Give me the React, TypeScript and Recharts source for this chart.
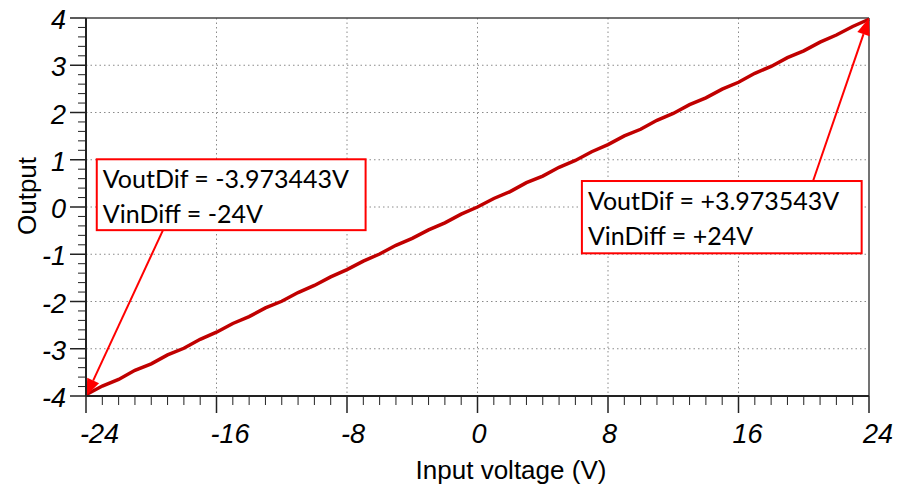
import React from 'react'
import { LineChart, Line, XAxis, YAxis, CartesianGrid, ReferenceLine, ReferenceArea, Label } from 'recharts'

// sweep of the differential input (V) and the measured output
const inputVoltage = [
    -24, -23, -22, -21, -20, -19, -18, -17, -16, -15, -14, -13, -12, -11, -10, -9, -8, -7, -6, -5, -4, -3, -2, -1,
    0, 1, 2, 3, 4, 5, 6, 7, 8, 9, 10, 11, 12, 13, 14, 15, 16, 17, 18, 19, 20, 21, 22, 23, 24,
]
const outputVoltage = [
    -3.973, -3.79, -3.65, -3.455, -3.32, -3.13, -2.99, -2.8, -2.65, -2.465, -2.32, -2.135, -1.995, -1.81, -1.66,
    -1.48, -1.325, -1.145, -0.995, -0.81, -0.665, -0.485, -0.335, -0.15, 0, 0.18, 0.325, 0.515, 0.655, 0.84, 0.985,
    1.17, 1.32, 1.505, 1.645, 1.835, 1.98, 2.165, 2.31, 2.495, 2.64, 2.83, 2.975, 3.16, 3.305, 3.49, 3.64, 3.82, 3.974,
]

const xMajorTicks = [-24, -16, -8, 0, 8, 16, 24]
const yMajorTicks = [-4, -3, -2, -1, 0, 1, 2, 3, 4]
const xGridValues = [-16, -8, 0, 8, 16]
const yGridValues = [-3, -2, -1, 0, 1, 2, 3]

// annotation text
const leftNote = ['VoutDif = -3.973443V', 'VinDiff = -24V']
const rightNote = ['VoutDif = +3.973543V', 'VinDiff = +24V']

const data = inputVoltage.map((v, i) => ({ vin: v, vout: outputVoltage[i] }))

const xMinorTicks = Array.from({ length: 49 }, (_, i) => i - 24)
const yMinorTicks = Array.from({ length: 41 }, (_, i) => Math.round((i * 0.2 - 4) * 10) / 10)

const PLOT_LEFT = 86
const PLOT_BOTTOM = 396
const ARIAL = 'Liberation Sans, Arial, sans-serif'
const tickFont = { fontFamily: ARIAL, fontSize: 27, fontStyle: 'italic' as const }
const noteFont = 'Lato, "Open Sans", sans-serif'

const XTick = (props: any) => {
    const { x, payload } = props
    const major = xMajorTicks.includes(payload.value)
    return (
        <g>
            <line x1={x} x2={x} y1={PLOT_BOTTOM} y2={PLOT_BOTTOM + (major ? 17 : 9)} stroke="#222" strokeWidth={major ? 1.5 : 1} />
            {major && (
                <text x={x - 6} y={443} textAnchor="start" fill="#000" {...tickFont}>
                    {payload.value}
                </text>
            )}
        </g>
    )
}

const YTick = (props: any) => {
    const { y, payload } = props
    const major = yMajorTicks.includes(payload.value)
    return (
        <g>
            <line x1={PLOT_LEFT - (major ? 16 : 8)} x2={PLOT_LEFT} y1={y} y2={y} stroke="#222" strokeWidth={major ? 1.5 : 1} />
            {major && (
                <text x={66} y={y + 11} textAnchor="end" fill="#000" {...tickFont}>
                    {payload.value}
                </text>
            )}
        </g>
    )
}

const Arrow = (props: any) => {
    const { x1, y1, x2, y2 } = props
    const ang = Math.atan2(y2 - y1, x2 - x1)
    const len = 17
    const w = 6.5
    const bx = x2 - len * Math.cos(ang)
    const by = y2 - len * Math.sin(ang)
    const px = -Math.sin(ang) * w
    const py = Math.cos(ang) * w
    return (
        <g>
            <line x1={x1} y1={y1} x2={bx} y2={by} stroke="#ff0000" strokeWidth={2} />
            <polygon points={`${x2},${y2} ${bx + px},${by + py} ${bx - px},${by - py}`} fill="#ff0000" />
        </g>
    )
}

const noteBox = (lines: string[]) => (props: any) => {
    const { x, y, width, height } = props
    return (
        <g>
            <rect x={x} y={y} width={width} height={height} fill="#fff" stroke="#ff0000" strokeWidth={2} />
            {lines.map((t, i) => (
                <text key={t} x={x + 6} y={y + 29 + i * 35} fontFamily={noteFont} fontSize={25} fill="#000">
                    {t}
                </text>
            ))}
        </g>
    )
}

export default function App() {
    return (
        <div style={{ position: 'absolute', left: 0, top: 0, background: '#fff' }}>
            <LineChart width={899} height={489} data={data} margin={{ top: 18, right: 30, left: 0, bottom: 0 }}>
                <CartesianGrid stroke="#8a8a8a" strokeDasharray="1.5 3" horizontalValues={yGridValues} verticalValues={xGridValues} />
                <XAxis dataKey="vin" type="number" domain={[-24, 24]} ticks={xMinorTicks} interval={0} height={93}
                    tick={<XTick />} tickLine={false} axisLine={{ stroke: '#222', strokeWidth: 2 }}>
                    <Label content={() => (
                        <text x={511} y={479} textAnchor="middle" fontFamily={ARIAL} fontSize={26} fill="#000">
                            Input voltage (V)
                        </text>
                    )} />
                </XAxis>
                <YAxis type="number" domain={[-4, 4]} ticks={yMinorTicks} interval={0} width={86}
                    tick={<YTick />} tickLine={false} axisLine={{ stroke: '#222', strokeWidth: 2 }}>
                    <Label content={() => (
                        <text x={36} y={196} transform="rotate(-90 36 196)" textAnchor="middle" fontFamily={ARIAL} fontSize={26} fill="#000">
                            Output
                        </text>
                    )} />
                </YAxis>
                <ReferenceLine y={4} stroke="#444" strokeWidth={1.5} />
                <ReferenceLine x={24} stroke="#444" strokeWidth={1.5} />
                <Line type="linear" dataKey="vout" stroke="#c00000" strokeWidth={3.5} dot={false} isAnimationActive={false} />
                <ReferenceArea x1={-23.34} x2={-6.86} y1={-0.49} y2={1.01} shape={noteBox(leftNote)} ifOverflow="visible" />
                <ReferenceArea x1={6.4} x2={23.55} y1={-0.98} y2={0.55} shape={noteBox(rightNote)} ifOverflow="visible" />
                <ReferenceLine segment={[{ x: -19.28, y: -0.49 }, { x: -24, y: -4 }]} shape={<Arrow />} ifOverflow="visible" />
                <ReferenceLine segment={[{ x: 20.57, y: 0.55 }, { x: 24, y: 4 }]} shape={<Arrow />} ifOverflow="visible" />
            </LineChart>
        </div>
    )
}
